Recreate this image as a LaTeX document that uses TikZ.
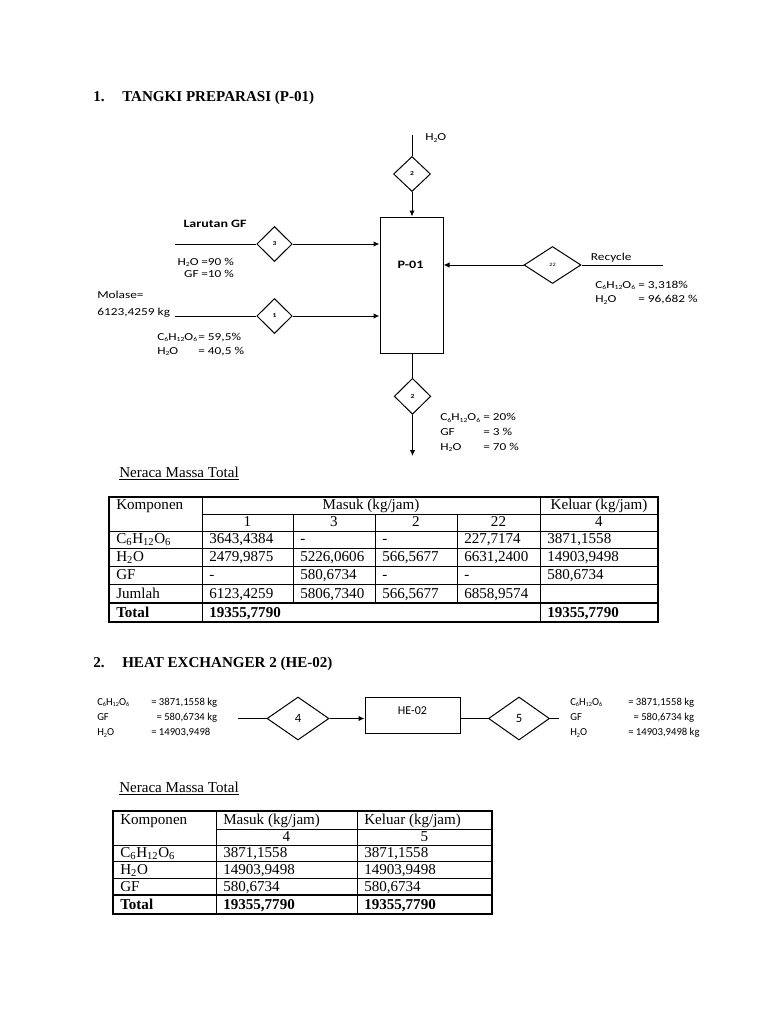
\documentclass[tikz,border=0pt]{standalone}
\usepackage{fontspec}
\setmainfont{Liberation Serif}
\newfontfamily\lblf[FakeStretch=1.25]{Carlito}
\newfontfamily\lblnf{Carlito}
\usetikzlibrary{shapes.geometric,arrows.meta}
\newcommand{\glu}{C\textsubscript{6}H\textsubscript{12}O\textsubscript{6}}
\newcommand{\wat}{H\textsubscript{2}O}
\newcommand{\sbs}[1]{\raisebox{-0.3ex}{\scalebox{0.58}{#1}}}
\newcommand{\gluS}{C\sbs{6}H\sbs{12}O\sbs{6}}
\newcommand{\watS}{H\sbs{2}O}
\begin{document}
\begin{tikzpicture}[x=0.75pt,y=-0.75pt,
  ln/.style={line width=0.75pt,draw=black},
  arr/.style={ln,-{Latex[length=4.5pt,width=4pt]}},
  dia/.style={diamond,draw,line width=0.75pt,inner sep=0pt,font=\lblf\bfseries\fontsize{4.5}{5}\selectfont},
  boxs/.style={rectangle,draw,line width=0.75pt,inner sep=0pt},
  lab/.style={inner sep=0pt,anchor=base west,font=\lblf\fontsize{8}{9.75}\selectfont},
  labn/.style={inner sep=0pt,anchor=base west,font=\lblnf\fontsize{8}{11.5}\selectfont},
  ser/.style={inner sep=0pt,anchor=base west,font=\fontsize{11.3}{13}\selectfont},
  serc/.style={ser,anchor=base},
  serb/.style={inner sep=0pt,anchor=base west,font=\bfseries\fontsize{11.3}{13}\selectfont},
  tl/.style={line width=0.5pt},
  tt/.style={line width=1.1pt}]
\fill[white] (0,0) rectangle (768,1024);
\useasboundingbox (0,0) rectangle (768,1024);

% ---------- Section 1 ----------
\node[serb] (t1n) at (93,101.7) {1.};
\node[serb] (t1) at (122,101.7) {TANGKI PREPARASI (P-01)};

\node[boxs,minimum width=47.25pt,minimum height=102pt] (p01) at (411.5,285) {};
\node[inner sep=0pt,anchor=base,font=\lblf\bfseries\fontsize{8.5}{10}\selectfont] (p01lab) at (410.5,268.3) {P-01};

\node[dia,minimum width=27.75pt,minimum height=26.25pt] (d2t) at (412,174) {2};
\node[dia,minimum width=26.6pt,minimum height=26.25pt] (d3) at (274.5,244) {3};
\node[dia,minimum width=26.6pt,minimum height=26.25pt] (d1) at (274.5,316) {1};
\node[dia,minimum width=42.75pt,minimum height=27.75pt,font=\lblf\fontsize{3.8}{4}\selectfont] (d22) at (552.5,265) {22};
\node[dia,minimum width=27.4pt,minimum height=27pt] (d2b) at (412.5,396.3) {2};

\coordinate (h2oIn) at (412,135);
\coordinate (gfIn) at (175,244);
\coordinate (molIn) at (175,316);
\coordinate (recIn) at (663,265);
\coordinate (outEnd) at (412.5,456);

\draw[ln] (h2oIn) -- (d2t.north);
\draw[arr] (d2t.south) -- (d2t.south |- p01.north);
\draw[ln] (gfIn) -- (d3.west);
\draw[arr] (d3.east) -- (d3.east -| p01.west);
\draw[ln] (molIn) -- (d1.west);
\draw[arr] (d1.east) -- (d1.east -| p01.west);
\draw[ln] (recIn) -- (d22.east);
\draw[arr] (d22.west) -- (d22.west -| p01.east);
\draw[ln] (d2b.north |- p01.south) -- (d2b.north);
\draw[arr] (d2b.south) -- (outEnd);

\node[lab] (h2olab) at (425,140.7) {\watS};
\node[lab,font=\lblf\bfseries\fontsize{8.4}{10}\selectfont] (gflab) at (183.3,227.7) {Larutan GF};
\node[lab,anchor=base east,font=\lblf\fontsize{8}{9.5}\selectfont] (gfc1) at (199,265) {\begin{tabular}[t]{@{}r@{}}\watS\\GF\end{tabular}};
\node[lab,font=\lblf\fontsize{8}{9.5}\selectfont] (gfc2) at (201,265) {\begin{tabular}[t]{@{}l@{}}=90 \%\\=10 \%\end{tabular}};
\node[lab] (mol1) at (97,298.5) {Molase=};
\node[lab] (mol2) at (97,315) {6123,4259 kg};
\node[lab,font=\lblf\fontsize{8}{10.7}\selectfont] (mc1) at (157,340) {\begin{tabular}[t]{@{}l@{}}\gluS\\\watS\end{tabular}};
\node[lab,font=\lblf\fontsize{8}{10.7}\selectfont] (mc2) at (198,340) {\begin{tabular}[t]{@{}l@{}}= 59,5\%\\= 40,5 \%\end{tabular}};
\node[lab] (reclab) at (590.7,260) {Recycle};
\node[lab,font=\lblf\fontsize{8}{10.8}\selectfont] (rc1) at (595,288.3) {\begin{tabular}[t]{@{}l@{}}\gluS\\\watS\end{tabular}};
\node[lab,font=\lblf\fontsize{8}{10.8}\selectfont] (rc2) at (638,288.3) {\begin{tabular}[t]{@{}l@{}}= 3,318\%\\= 96,682 \%\end{tabular}};
\node[lab,font=\lblf\fontsize{8}{11}\selectfont] (oc1) at (440,420.7) {\begin{tabular}[t]{@{}l@{}}\gluS\\GF\\\watS\end{tabular}};
\node[lab,font=\lblf\fontsize{8}{11}\selectfont] (oc2) at (483,420.7) {\begin{tabular}[t]{@{}l@{}}= 20\%\\= 3 \%\\= 70 \%\end{tabular}};

% ---------- Table 1 ----------
\node[ser] (ner1) at (119,477.5) {\underline{Neraca Massa Total}};
\draw[tl] (202,497) -- (202,622);
\draw[tl] (540,497) -- (540,622);
\draw[tl] (293,514) -- (293,603);
\draw[tl] (375,514) -- (375,603);
\draw[tl] (457,514) -- (457,603);
\draw[tl] (202,514) -- (658,514);
\draw[tl] (109,531) -- (658,531);
\draw[tl] (109,548) -- (658,548);
\draw[tl] (109,566) -- (658,566);
\draw[tl] (109,584) -- (658,584);
\draw[tt] (109,603) -- (658,603);
\draw[tt] (109,497) rectangle (658,622);

\node[ser] (a00) at (116,509.5) {Komponen};
\node[serc] (a01) at (371,509.5) {Masuk (kg/jam)};
\node[serc] (a02) at (599,509.5) {Keluar (kg/jam)};
\node[serc] (a11) at (247.5,526) {1};
\node[serc] (a12) at (334,526) {3};
\node[serc] (a13) at (416,526) {2};
\node[serc] (a14) at (498.5,526) {22};
\node[serc] (a15) at (599,526) {4};

\node[ser] (a20) at (116,543.5) {\glu};
\node[ser] (a21) at (209,543.5) {3643,4384};
\node[ser] (a22) at (300,543.5) {-};
\node[ser] (a23) at (382,543.5) {-};
\node[ser] (a24) at (464,543.5) {227,7174};
\node[ser] (a25) at (547,543.5) {3871,1558};

\node[ser] (a30) at (116,561.5) {\wat};
\node[ser] (a31) at (209,561.5) {2479,9875};
\node[ser] (a32) at (300,561.5) {5226,0606};
\node[ser] (a33) at (382,561.5) {566,5677};
\node[ser] (a34) at (464,561.5) {6631,2400};
\node[ser] (a35) at (547,561.5) {14903,9498};

\node[ser] (a40) at (116,579.5) {GF};
\node[ser] (a41) at (209,579.5) {-};
\node[ser] (a42) at (300,579.5) {580,6734};
\node[ser] (a43) at (382,579.5) {-};
\node[ser] (a44) at (464,579.5) {-};
\node[ser] (a45) at (547,579.5) {580,6734};

\node[ser] (a50) at (116,598) {Jumlah};
\node[ser] (a51) at (209,598) {6123,4259};
\node[ser] (a52) at (300,598) {5806,7340};
\node[ser] (a53) at (382,598) {566,5677};
\node[ser] (a54) at (464,598) {6858,9574};

\node[serb] (a60) at (116,617) {Total};
\node[serb] (a61) at (209,617) {19355,7790};
\node[serb] (a65) at (547,617) {19355,7790};

% ---------- Section 2 ----------
\node[serb] (t2n) at (93,667) {2.};
\node[serb] (t2) at (122,667) {HEAT EXCHANGER 2 (HE-02)};

\node[boxs,minimum width=71.25pt,minimum height=27pt] (he02) at (412.5,715) {};
\node[inner sep=0pt,anchor=base,font=\lblnf\fontsize{9}{10}\selectfont] (he02lab) at (412.5,714.5) {HE-02};
\node[dia,minimum width=46.5pt,minimum height=32.25pt,font=\lblnf\fontsize{9.5}{10}\selectfont] (d4) at (298,718.5) {4};
\node[dia,minimum width=45.75pt,minimum height=32.25pt,font=\lblnf\fontsize{9.5}{10}\selectfont] (d5) at (519,718.5) {5};
\coordinate (he4In) at (238,718.5);
\coordinate (he5Out) at (559,718.5);
\draw[ln] (he4In) -- (d4.west);
\draw[arr] (d4.east) -- (d4.east -| he02.west);
\draw[ln] (d5.west -| he02.east) -- (d5.west);
\draw[ln] (d5.east) -- (he5Out);

\node[labn] (hl1) at (97,705) {\begin{tabular}[t]{@{}l@{}}\gluS\\GF\\\watS\end{tabular}};
\node[labn] (hl2) at (151,705) {\begin{tabular}[t]{@{}l@{}}= 3871,1558 kg\\\hspace{4pt}= 580,6734 kg\\= 14903,9498\end{tabular}};
\node[labn] (hr1) at (570,705) {\begin{tabular}[t]{@{}l@{}}\gluS\\GF\\\watS\end{tabular}};
\node[labn] (hr2) at (628,705) {\begin{tabular}[t]{@{}l@{}}= 3871,1558 kg\\\hspace{4pt}= 580,6734 kg\\= 14903,9498 kg\end{tabular}};

% ---------- Table 2 ----------
\node[ser] (ner2) at (119,792.5) {\underline{Neraca Massa Total}};
\draw[tl] (216,811) -- (216,914);
\draw[tl] (357,811) -- (357,914);
\draw[tl] (216,829) -- (492,829);
\draw[tl] (113,845) -- (492,845);
\draw[tl] (113,861) -- (492,861);
\draw[tl] (113,878) -- (492,878);
\draw[tt] (113,895) -- (492,895);
\draw[tt] (113,811) rectangle (492,914);

\node[ser] (b00) at (120,824.5) {Komponen};
\node[ser] (b01) at (223,824.5) {Masuk (kg/jam)};
\node[ser] (b02) at (364,824.5) {Keluar (kg/jam)};
\node[serc] (b11) at (286.5,841) {4};
\node[serc] (b12) at (424.5,841) {5};
\node[ser] (b20) at (120,857) {\glu};
\node[ser] (b21) at (223,857) {3871,1558};
\node[ser] (b22) at (364,857) {3871,1558};
\node[ser] (b30) at (120,874) {\wat};
\node[ser] (b31) at (223,874) {14903,9498};
\node[ser] (b32) at (364,874) {14903,9498};
\node[ser] (b40) at (120,891) {GF};
\node[ser] (b41) at (223,891) {580,6734};
\node[ser] (b42) at (364,891) {580,6734};
\node[serb] (b50) at (120,909.5) {Total};
\node[serb] (b51) at (223,909.5) {19355,7790};
\node[serb] (b52) at (364,909.5) {19355,7790};
\end{tikzpicture}
\end{document}
